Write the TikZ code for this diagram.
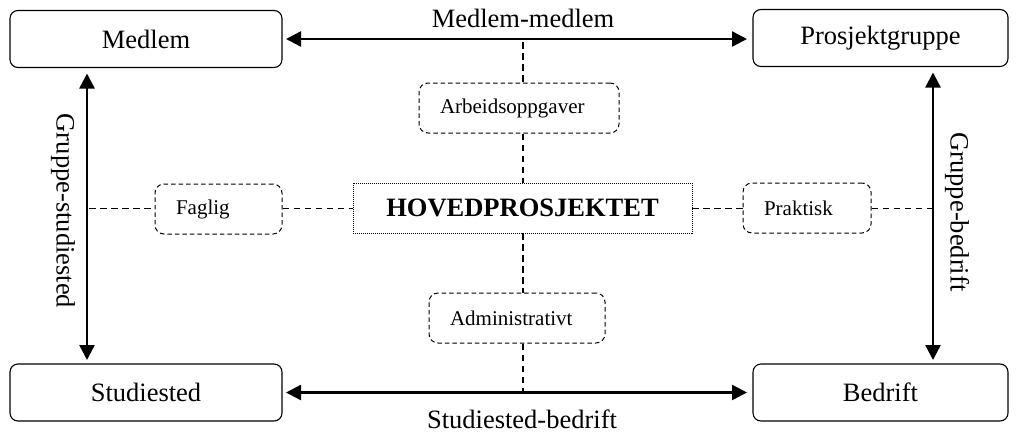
\documentclass[tikz,border=0pt]{standalone}
\usepackage{fontspec}
\setmainfont{Liberation Serif}
\usetikzlibrary{arrows.meta}
\begin{document}
\begin{tikzpicture}[x=1pt,y=-1pt,
  bigbox/.style={draw, rounded corners=8pt, line width=1.1pt, minimum width=272pt, minimum height=57pt, inner sep=0pt, outer sep=0pt, font=\fontsize{26.5}{30}\selectfont},
  smallbox/.style={draw, dash pattern=on 4.5pt off 3pt, rounded corners=9pt, line width=1pt, inner ysep=0pt, inner xsep=21pt, align=left, minimum height=50pt, font=\fontsize{21}{24}\selectfont},
  centerbox/.style={draw, dash pattern=on 1pt off 1pt, line width=0.9pt, inner sep=0pt, minimum width=339pt, minimum height=50pt, font=\fontsize{26.5}{30}\selectfont\bfseries},
  dline/.style={line width=1.5pt, dash pattern=on 6.5pt off 4.5pt},
  arr/.style={line width=2.4pt, {Triangle[length=15pt,width=15pt]}-{Triangle[length=15pt,width=15pt]}},
  lbl/.style={font=\fontsize{26.5}{30}\selectfont, inner sep=0pt}]
\useasboundingbox (0,0) rectangle (1017,437);
% main boxes
\node[bigbox] (Medlem) at (146,39) {Medlem};
\node[bigbox, minimum width=255pt] (Prosjekt) at (880.5,38) {Prosjektgruppe};
\node[bigbox] (Studiested) at (146,392.5) {Studiested};
\node[bigbox, minimum width=255pt] (Bedrift) at (880.5,392.5) {Bedrift};
% center
\node[centerbox] (Hoved) at (522.5,208) {HOVEDPROSJEKTET};
\node[smallbox, text width=158pt] (Arb) at (519,108) {Arbeidsoppgaver};
\node[smallbox, text width=134pt] (Adm) at (517,318) {Administrativt};
\node[smallbox, text width=85pt] (Faglig) at (218.5,209) {Faglig};
\node[smallbox, text width=86pt] (Praktisk) at (807,208) {Praktisk};
% arrows
\draw[arr] ([xshift=4pt]Medlem.east) -- ([xshift=-6pt]Prosjekt.west|-Medlem.east);
\draw[arr] ([xshift=4pt]Studiested.east) -- ([xshift=-6pt]Bedrift.west);
\draw[arr] ([shift={(-59,6)}]Medlem.south) -- ([shift={(-59,-4)}]Studiested.north);
\draw[arr] ([shift={(52.5,6)}]Prosjekt.south) -- ([shift={(52.5,-4)}]Bedrift.north);
% labels
\node[lbl, anchor=base] (mm) at (523,27) {Medlem-medlem};
\node[lbl, anchor=base] (sb) at (522,428) {Studiested-bedrift};
\node[lbl, rotate=-90] (gs) at (63,211) {Gruppe-studiested};
\node[lbl, rotate=-90] (gb) at (957,212) {Gruppe-bedrift};
% dashed connectors
\coordinate (vtop) at (523,42);
\coordinate (vbot) at (523,391);
\coordinate (hl) at (89,208.5);
\coordinate (hr) at (932,208.5);
\draw[dline] (vtop) -- (vtop |- Arb.north);
\draw[dline] (vtop |- Arb.south) -- (vtop |- Hoved.north);
\draw[dline] (vtop |- Hoved.south) -- (vtop |- Adm.north);
\draw[dline] (vtop |- Adm.south) -- (vbot);
\draw[dline] (hl) -- (hl -| Faglig.west);
\draw[dline] (hl -| Faglig.east) -- (hl -| Hoved.west);
\draw[dline] (hl -| Hoved.east) -- (hl -| Praktisk.west);
\draw[dline] (hl -| Praktisk.east) -- (hr);
\end{tikzpicture}
\end{document}
